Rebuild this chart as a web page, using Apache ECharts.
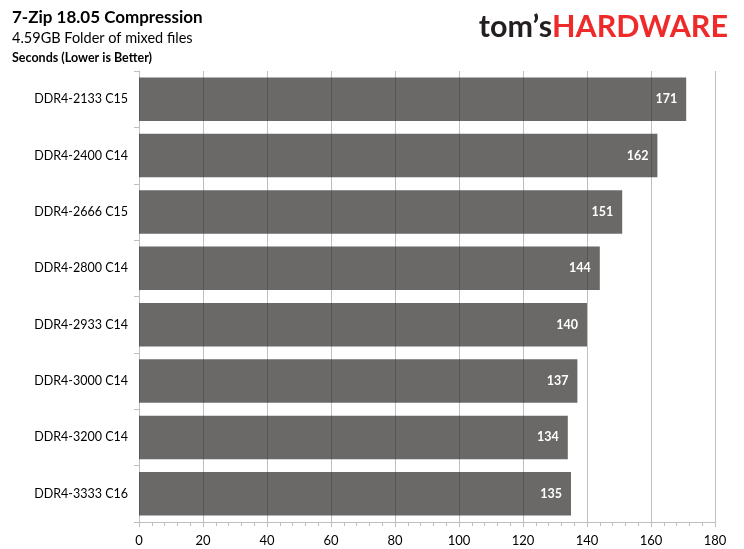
<!DOCTYPE html>
<html><head><meta charset="utf-8">
<script src="https://cdn.jsdelivr.net/npm/echarts@6/dist/echarts.min.js"></script>
<style>html,body{margin:0;padding:0;background:#fff}#c{width:744px;height:549px}</style>
</head><body><div id="c"></div>
<script>
const categories = ["DDR4-2133 C15","DDR4-2400 C14","DDR4-2666 C15","DDR4-2800 C14","DDR4-2933 C14","DDR4-3000 C14","DDR4-3200 C14","DDR4-3333 C16"];
const seconds = [171,162,151,144,140,137,134,135];
const xTicks = {min:0,max:180,interval:20};
const F = 'Lato, "Open Sans", sans-serif';
const chart = echarts.init(document.getElementById('c'));
chart.setOption({
  animation:false,
  title:[
    {text:'7-Zip 18.05 Compression',left:7,top:4,textStyle:{fontFamily:F,fontWeight:'bold',fontSize:17,color:'#000'}},
    {text:'4.59GB Folder of mixed files',left:7,top:26,textStyle:{fontFamily:F,fontWeight:'normal',fontSize:14.5,color:'#000'}},
    {text:'{b|Seconds}{n| (Lower is Better)}',left:7,top:46,textStyle:{rich:{b:{fontFamily:F,fontWeight:'bold',fontSize:12.5,color:'#000'},n:{fontFamily:F,fontSize:12.5,color:'#000'}}}},
    {text:'{t|tom\u2019s}{h|HARDWARE}',right:11,top:7,textStyle:{rich:{t:{fontFamily:'Lato, sans-serif',fontWeight:'bold',fontSize:30.5,color:'#231f20'},h:{fontFamily:'Lato, sans-serif',fontWeight:'bold',fontSize:30.5,color:'#ee2a2a'}}}}
  ],
  grid:{left:139,right:29,top:71,bottom:27,containLabel:false},
  xAxis:{type:'value',min:xTicks.min,max:xTicks.max,interval:xTicks.interval,
    axisLine:{show:true,lineStyle:{color:'#bfbfbf'}},
    axisTick:{show:true,length:5,lineStyle:{color:'#bfbfbf'}},
    minorTick:{show:true,splitNumber:5,length:4,lineStyle:{color:'#bfbfbf'}},
    splitLine:{show:true,lineStyle:{color:'#bfbfbf',width:1}},
    axisLabel:{fontFamily:F,fontSize:13,color:'#000',margin:12}},
  yAxis:{type:'category',data:categories,inverse:true,
    axisLine:{show:true,lineStyle:{color:'#bfbfbf'}},
    axisTick:{show:true,length:5,lineStyle:{color:'#bfbfbf'}},
    axisLabel:{fontFamily:F,fontSize:12.5,color:'#000',margin:11}},
  series:[{type:'bar',data:seconds,barCategoryGap:'23%',
    itemStyle:{color:'rgba(45,44,42,0.71)'},
    label:{show:true,position:'insideRight',distance:9,color:'#fff',fontFamily:F,fontWeight:'bold',fontSize:12.5}}]
});
</script></body></html>
